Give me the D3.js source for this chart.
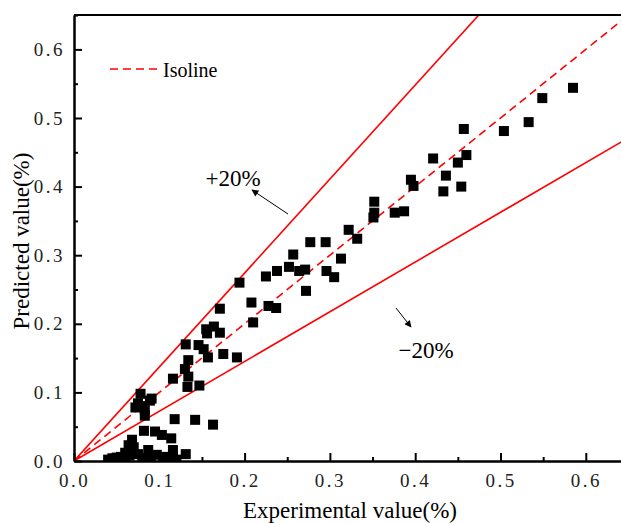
<!DOCTYPE html>
<html>
<head>
<meta charset="utf-8">
<script src="https://cdn.jsdelivr.net/npm/d3@7"></script>
<style>
  body { margin: 0; background: #fff; }
  svg { display: block; }
</style>
</head>
<body>
<svg id="chart" width="621" height="523"></svg>
<script>
// ---- data ----
const expValues = [
  0.585,0.549,0.533,0.504,0.457,0.460,0.450,0.421,0.436,0.433,0.454,0.395,0.398,0.376,0.387,
  0.352,0.352,0.351,0.322,0.332,0.313,0.277,0.295,0.257,0.252,0.238,0.225,0.264,0.271,0.296,
  0.305,0.272,0.194,0.208,0.228,0.237,0.210,0.171,0.155,0.164,0.171,0.156,0.131,0.146,0.152,
  0.157,0.175,0.191,0.134,0.130,0.134,0.116,0.133,0.147,
  0.078,0.091,0.089,0.075,0.072,0.083,0.083,0.080,0.118,0.142,0.163,
  0.082,0.095,0.103,0.114,0.068,0.064,0.070,0.116,0.131,0.087,0.097,0.105,0.060,0.075,
  0.040,0.045,0.050,0.055,0.060,0.065,0.080,0.090,0.110,0.120
];
const predValues = [
  0.544,0.529,0.494,0.481,0.484,0.446,0.435,0.441,0.416,0.393,0.400,0.410,0.401,0.362,0.364,
  0.378,0.362,0.355,0.337,0.324,0.295,0.319,0.319,0.301,0.283,0.277,0.269,0.277,0.279,0.277,
  0.268,0.248,0.260,0.231,0.226,0.223,0.202,0.222,0.192,0.196,0.187,0.186,0.170,0.169,0.163,
  0.151,0.156,0.151,0.147,0.134,0.123,0.120,0.108,0.110,
  0.098,0.091,0.088,0.084,0.078,0.074,0.066,0.080,0.061,0.060,0.053,
  0.044,0.043,0.038,0.033,0.031,0.023,0.020,0.016,0.010,0.016,0.009,0.006,0.012,0.010,
  0.002,0.004,0.005,0.006,0.004,0.008,0.004,0.003,0.004,0.002
];
const majorTicks = [0.0, 0.1, 0.2, 0.3, 0.4, 0.5, 0.6];
const minorTicks = [0.05, 0.15, 0.25, 0.35, 0.45, 0.55, 0.65];
const upperSlope = 1.37;   // "+20%" bound line
const lowerSlope = 0.725;  // "-20%" bound line
const xLabel = "Experimental value(%)";
const yLabel = "Predicted value(%)";
const legendLabel = "Isoline";
const plusLabel = "+20%";
const minusLabel = "\u221220%";

// ---- layout ----
const svg = d3.select("#chart");
const x = d3.scaleLinear().domain([0, 0.65]).range([74, 74 + 0.65 * 853]);
const y = d3.scaleLinear().domain([0, 0.65]).range([461, 461 - 0.65 * 686]);
const serif = "'Liberation Serif', 'Times New Roman', serif";

svg.append("defs").append("clipPath").attr("id", "plotclip")
  .append("rect")
  .attr("x", x(0)).attr("y", y(0.65))
  .attr("width", x(0.65) - x(0)).attr("height", y(0) - y(0.65));

svg.append("defs").append("marker")
  .attr("id", "arrow").attr("viewBox", "0 0 10 10")
  .attr("refX", 9).attr("refY", 5)
  .attr("markerWidth", 9).attr("markerHeight", 7)
  .attr("markerUnits", "userSpaceOnUse")
  .attr("orient", "auto")
  .append("path").attr("d", "M0,0 L10,5 L0,10 Z").attr("fill", "#000");

const plot = svg.append("g").attr("clip-path", "url(#plotclip)");

// reference lines
const lineGen = d3.line().x(d => x(d[0])).y(d => y(d[1]));
plot.append("path").datum([[0, 0], [0.65, 0.65 * upperSlope]])
  .attr("d", lineGen).attr("stroke", "#ff0000").attr("stroke-width", 1.6).attr("fill", "none");
plot.append("path").datum([[0, 0], [0.65, 0.65 * lowerSlope]])
  .attr("d", lineGen).attr("stroke", "#ff0000").attr("stroke-width", 1.6).attr("fill", "none");
plot.append("path").datum([[0, 0], [0.65, 0.65]])
  .attr("d", lineGen).attr("stroke", "#ff0000").attr("stroke-width", 1.6)
  .attr("stroke-dasharray", "8,5").attr("fill", "none");

// points
const pts = expValues.map((v, i) => [v, predValues[i]]);
const sq = 10;
plot.selectAll("rect.pt").data(pts).enter().append("rect")
  .attr("class", "pt")
  .attr("x", d => x(d[0]) - sq / 2).attr("y", d => y(d[1]) - sq / 2)
  .attr("width", sq).attr("height", sq).attr("fill", "#000");

// axes
const fmt = d3.format(".1f");
const xAxis = svg.append("g").attr("transform", `translate(0,${y(0)})`)
  .call(d3.axisBottom(x).tickValues(majorTicks).tickFormat(fmt).tickSizeInner(-8).tickSizeOuter(0).tickPadding(13));
const xMinor = svg.append("g").attr("transform", `translate(0,${y(0)})`)
  .call(d3.axisBottom(x).tickValues(minorTicks).tickFormat("").tickSizeInner(-4).tickSizeOuter(0));
const yAxis = svg.append("g").attr("transform", `translate(${x(0)},0)`)
  .call(d3.axisLeft(y).tickValues(majorTicks).tickFormat(fmt).tickSizeInner(-8).tickSizeOuter(0).tickPadding(9));
const yMinor = svg.append("g").attr("transform", `translate(${x(0)},0)`)
  .call(d3.axisLeft(y).tickValues(minorTicks).tickFormat("").tickSizeInner(-4).tickSizeOuter(0));

[xAxis, xMinor, yAxis, yMinor].forEach(g => {
  g.select(".domain").attr("stroke", "#000").attr("stroke-width", 2);
  g.selectAll(".tick line").attr("stroke", "#000").attr("stroke-width", 2);
  g.selectAll(".tick text").attr("font-family", serif).attr("font-size", 19)
    .attr("fill", "#222").style("letter-spacing", "2.5px");
});

// top frame line
svg.append("line")
  .attr("x1", x(0)).attr("x2", x(0.65)).attr("y1", y(0.65)).attr("y2", y(0.65))
  .attr("stroke", "#000").attr("stroke-width", 2);

// axis titles
svg.append("text").attr("x", 350).attr("y", 518).attr("text-anchor", "middle")
  .attr("font-family", serif).attr("font-size", 23).text(xLabel);
svg.append("text").attr("transform", "translate(29,241) rotate(-90)").attr("text-anchor", "middle")
  .attr("font-family", serif).attr("font-size", 23).text(yLabel);

// legend
svg.append("line").attr("x1", 110).attr("x2", 157).attr("y1", 69).attr("y2", 69)
  .attr("stroke", "#ff0000").attr("stroke-width", 1.6).attr("stroke-dasharray", "8,5");
svg.append("text").attr("x", 163).attr("y", 77).attr("font-family", serif)
  .attr("font-size", 20).text(legendLabel);

// annotations
svg.append("text").attr("x", 233).attr("y", 186).attr("text-anchor", "middle")
  .attr("font-family", serif).attr("font-size", 23).text(plusLabel);
svg.append("line").attr("x1", 288).attr("y1", 214).attr("x2", 252).attr("y2", 190)
  .attr("stroke", "#000").attr("stroke-width", 1).attr("marker-end", "url(#arrow)");
svg.append("text").attr("x", 426).attr("y", 358).attr("text-anchor", "middle")
  .attr("font-family", serif).attr("font-size", 23).text(minusLabel);
svg.append("line").attr("x1", 396).attr("y1", 308).attr("x2", 411).attr("y2", 327)
  .attr("stroke", "#000").attr("stroke-width", 1).attr("marker-end", "url(#arrow)");
</script>
</body>
</html>
